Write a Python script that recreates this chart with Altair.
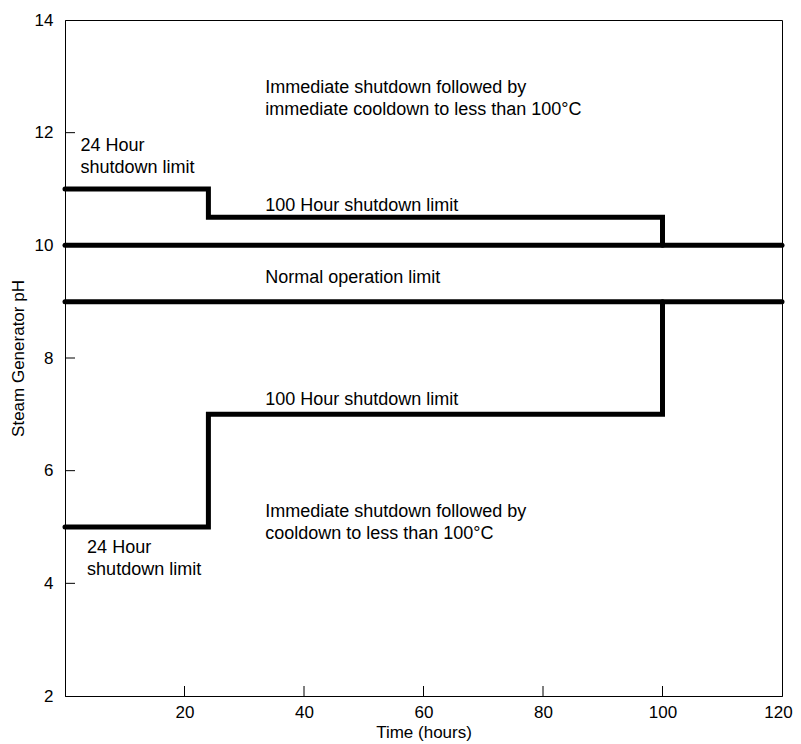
import altair as alt
import pandas as pd

# Limit lines (time in hours, steam generator pH)
upper_x = [0, 24, 24, 100, 100]
upper_y = [11, 11, 10.5, 10.5, 10]
normal_hi_x = [0, 120]
normal_hi_y = [10, 10]
normal_lo_x = [0, 120]
normal_lo_y = [9, 9]
lower_x = [0, 24, 24, 100, 100]
lower_y = [5, 5, 7, 7, 9]

# Annotations (y = first line of each label)
label_texts = [
    "Immediate shutdown followed by\nimmediate cooldown to less than 100°C",
    "24 Hour\nshutdown limit",
    "100 Hour shutdown limit",
    "Normal operation limit",
    "100 Hour shutdown limit",
    "Immediate shutdown followed by\n cooldown to less than 100°C",
    "24 Hour\nshutdown limit",
]
label_x = [33.5, 2.6, 33.5, 33.5, 33.5, 33.5, 3.7]
label_y = [12.79, 11.755, 10.7, 9.42, 7.25, 5.27, 4.63]

x_tick_values = [20, 40, 60, 80, 100]
y_tick_values = [4, 6, 8, 10, 12]
x_label_values = [20, 40, 60, 80, 100, 120]
y_label_values = [2, 4, 6, 8, 10, 12, 14]

W, H = 717, 676
FONT = "Liberation Sans"

rows = []
for name, xs, ys in [("upper", upper_x, upper_y), ("nhi", normal_hi_x, normal_hi_y),
                     ("nlo", normal_lo_x, normal_lo_y), ("lower", lower_x, lower_y)]:
    for i, (xv, yv) in enumerate(zip(xs, ys)):
        rows.append({"series": name, "order": i, "x": xv, "y": yv})
lines_df = pd.DataFrame(rows)
labels_df = pd.DataFrame({"text": label_texts, "x": label_x, "y": label_y})
xt_df = pd.DataFrame({"x": x_tick_values})
yt_df = pd.DataFrame({"y": y_tick_values})

x_enc = alt.X("x:Q", scale=alt.Scale(domain=[0, 120], nice=False, zero=False),
              axis=alt.Axis(values=x_label_values, tickSize=0, labelPadding=8, grid=False,
                            labelFlush=False, labelOffset={"expr": "datum.value == 120 ? -4 : 0"},
                            title="Time (hours)", titlePadding=4))
y_enc = alt.Y("y:Q", scale=alt.Scale(domain=[2, 14], nice=False, zero=False),
              axis=alt.Axis(values=y_label_values, tickSize=0, labelPadding=12, grid=False,
                            labelFlush=False, title="Steam Generator pH", titlePadding=7))

lines = alt.Chart(lines_df).mark_line(color="black", strokeWidth=5, strokeCap="round",
                                      strokeJoin="miter").encode(
    x=x_enc, y=y_enc, detail="series:N", order="order:Q")

labels = alt.Chart(labels_df).mark_text(align="left", baseline="middle", fontSize=18,
                                        font=FONT, lineHeight=22, color="black",
                                        lineBreak="\n").encode(
    x=x_enc, y=y_enc, text="text:N")

yticks = alt.Chart(yt_df).mark_rule(color="black", strokeWidth=1).encode(
    y=y_enc, x=alt.value(0), x2=alt.value(10))
xticks = alt.Chart(xt_df).mark_rule(color="black", strokeWidth=1).encode(
    x=x_enc, y=alt.value(H), y2=alt.value(H - 10))

chart = alt.layer(lines, labels, yticks, xticks).properties(
    width=W, height=H,
    autosize=alt.AutoSizeParams(type="none"),
    padding={"left": 57, "top": 12, "right": 11, "bottom": 46},
).configure_view(stroke="black", strokeWidth=1).configure_axis(
    domainColor="black", domainWidth=1, labelFont=FONT, titleFont=FONT,
    labelFontSize=17, titleFontSize=17, labelColor="black", titleColor="black",
    titleFontWeight="normal",
)

chart.save("out.html", embed_options={"renderer": "svg", "actions": False})
